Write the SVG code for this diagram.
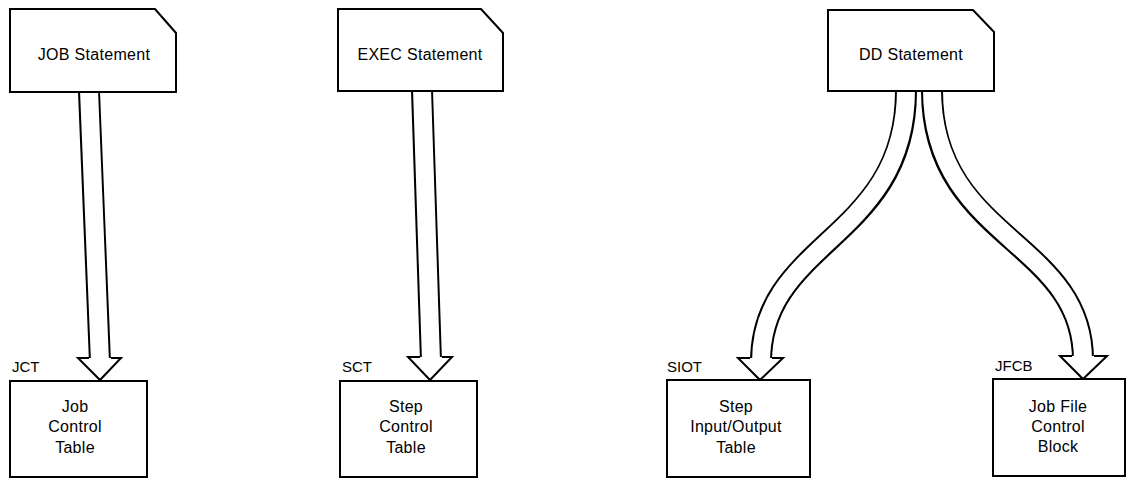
<svg xmlns="http://www.w3.org/2000/svg" width="1128" height="479" viewBox="0 0 1128 479">
<style>
.box{fill:#fff;stroke:#000;stroke-width:2;stroke-linejoin:miter}
.t{font-family:"Liberation Sans",Arial,sans-serif;font-size:16px;fill:#000;text-anchor:middle;letter-spacing:0.3px}
.lbl{font-family:"Liberation Sans",Arial,sans-serif;font-size:15px;fill:#000}
.so{fill:none;stroke:#000;stroke-width:22}
.si{fill:none;stroke:#fff;stroke-width:18}
.ah{fill:#fff;stroke:#000;stroke-width:2;stroke-linejoin:miter}
</style>
<rect width="1128" height="479" fill="#fff"/>
<g id="connectors">
  <g id="c-job-jct">
    <path class="so" d="M89,92 L100,362"/>
    <path class="si" d="M89,90 L100,362"/>
    <path class="ah" d="M89,358 L78,358 L100,380 L121,358 L111,358"/>
  </g>
  <g id="c-exec-sct">
    <path class="so" d="M422,91 L431,361"/>
    <path class="si" d="M422,89 L431,361"/>
    <path class="ah" d="M420,357 L408,357 L430,380 L452,357 L442,357"/>
  </g>
  <g id="c-dd-siot">
    <path class="so" d="M906,91 C906,240 761,240 761,362"/>
    <path class="si" d="M906,89 C906,240 761,240 761,362"/>
    <path class="ah" d="M750,358 L738,358 L760,380 L783,358 L772,358"/>
  </g>
  <g id="c-dd-jfcb">
    <path class="so" d="M932,91 C932,240 1083,240 1083,360"/>
    <path class="si" d="M932,89 C932,240 1083,240 1083,360"/>
    <path class="ah" d="M1072,356 L1060,356 L1083,379 L1107,356 L1094,356"/>
  </g>
</g>
<g id="job-statement">
  <path class="box" d="M10,9 L155,9 L176,33 L176,92 L10,92 Z"/>
  <text class="t" x="94" y="60">JOB Statement</text>
</g>
<g id="exec-statement">
  <path class="box" d="M338,9 L481,9 L503,33 L503,91 L338,91 Z"/>
  <text class="t" x="420" y="60">EXEC Statement</text>
</g>
<g id="dd-statement">
  <path class="box" d="M828,10 L973,10 L994,32 L994,91 L828,91 Z"/>
  <text class="t" x="911" y="60">DD Statement</text>
</g>
<g id="jct">
  <rect class="box" x="10" y="381" width="137" height="96"/>
  <text class="lbl" x="12" y="372">JCT</text>
  <text class="t" x="75" y="412">Job</text>
  <text class="t" x="75" y="432">Control</text>
  <text class="t" x="75" y="453">Table</text>
</g>
<g id="sct">
  <rect class="box" x="340" y="381" width="137" height="96"/>
  <text class="lbl" x="342" y="372">SCT</text>
  <text class="t" x="406" y="412">Step</text>
  <text class="t" x="406" y="432">Control</text>
  <text class="t" x="406" y="453">Table</text>
</g>
<g id="siot">
  <rect class="box" x="667" y="380" width="143" height="97"/>
  <text class="lbl" x="667" y="372">SIOT</text>
  <text class="t" x="736" y="412">Step</text>
  <text class="t" x="736" y="432">Input/Output</text>
  <text class="t" x="736" y="453">Table</text>
</g>
<g id="jfcb">
  <rect class="box" x="993" y="379" width="132" height="97"/>
  <text class="lbl" x="995" y="371">JFCB</text>
  <text class="t" x="1058" y="412">Job File</text>
  <text class="t" x="1058" y="432">Control</text>
  <text class="t" x="1058" y="452">Block</text>
</g>
</svg>
